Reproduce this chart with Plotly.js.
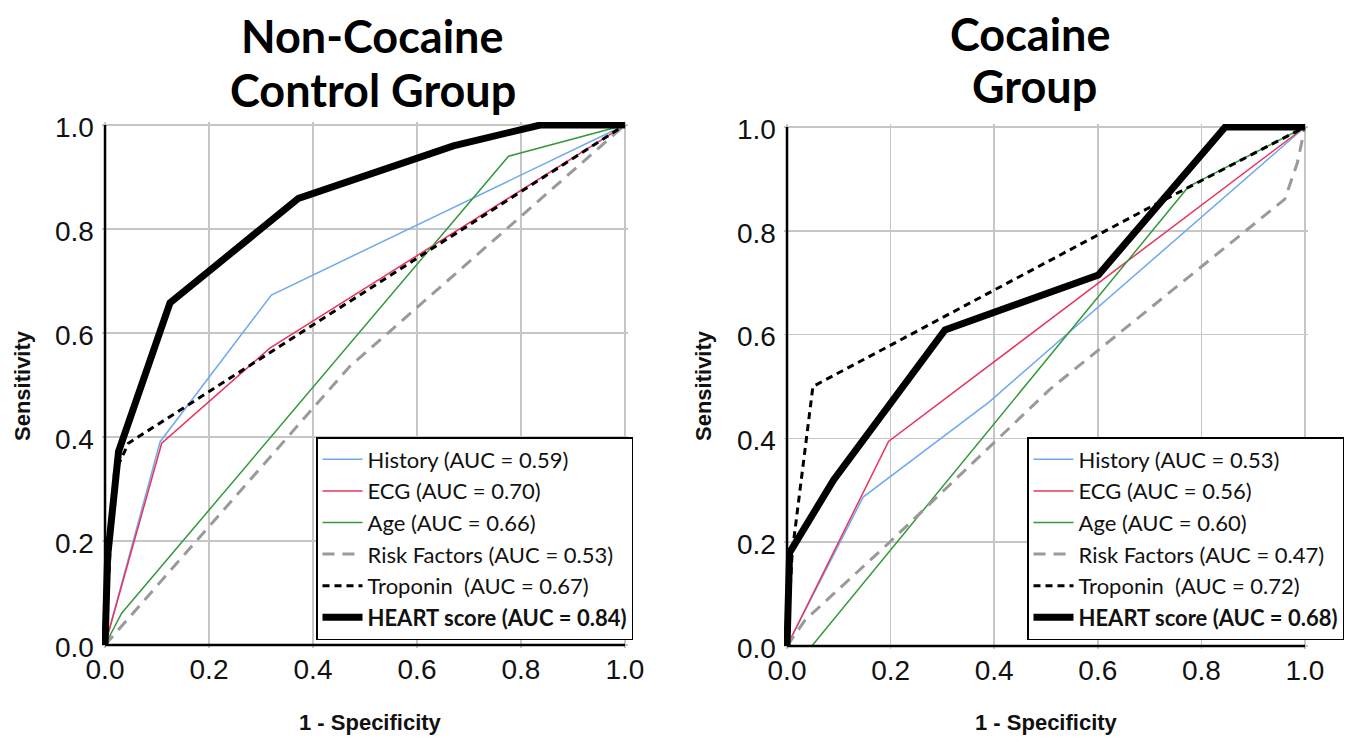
<!DOCTYPE html>
<html>
<head>
<meta charset="utf-8">
<script src="https://cdn.plot.ly/plotly-3.0.1.min.js"></script>
<style>html,body{margin:0;padding:0;background:#fff;}#chart{width:1355px;height:741px;}</style>
</head>
<body>
<div id="chart"></div>
<script>
// ---------- data ----------
const tickVals = [0, 0.2, 0.4, 0.6, 0.8, 1.0];
const tickLabels = ['0.0', '0.2', '0.4', '0.6', '0.8', '1.0'];
const seriesNames = ['History', 'ECG', 'Age', 'Risk Factors', 'Troponin\u00a0', 'HEART score'];
const nonCocaineAUC = ['0.59', '0.70', '0.66', '0.53', '0.67', '0.84'];
const cocaineAUC = ['0.53', '0.56', '0.60', '0.47', '0.72', '0.68'];

// Non-Cocaine Control Group (1 - specificity, sensitivity)
const ncHistoryX = [0, 0.106, 0.32, 1];
const ncHistoryY = [0, 0.391, 0.673, 1];
const ncEcgX = [0, 0.109, 0.317, 1];
const ncEcgY = [0, 0.388, 0.571, 1];
const ncAgeX = [0, 0.032, 0.776, 1];
const ncAgeY = [0, 0.061, 0.94, 1];
const ncRiskX = [0, 0.47, 1];
const ncRiskY = [0, 0.535, 1];
const ncTropX = [0, 0.018, 0.045, 1];
const ncTropY = [0, 0.33, 0.388, 1];
const ncHeartX = [0, 0.005, 0.026, 0.125, 0.372, 0.67, 0.837, 1];
const ncHeartY = [0, 0.17, 0.372, 0.658, 0.859, 0.96, 1, 1];

// Cocaine Group
const cHistoryX = [0, 0.147, 0.39, 1];
const cHistoryY = [0, 0.287, 0.47, 1];
const cEcgX = [0, 0.196, 1];
const cEcgY = [0, 0.394, 1];
const cAgeX = [0, 0.048, 0.775, 1];
const cAgeY = [0, 0, 0.885, 1];
const cRiskX = [0, 0.035, 0.196, 0.508, 0.961, 0.985, 1];
const cRiskY = [0, 0.05, 0.198, 0.495, 0.861, 0.93, 1];
const cTropX = [0, 0.01, 0.05, 0.7, 1];
const cTropY = [0, 0.18, 0.5, 0.845, 1];
const cHeartX = [0, 0.005, 0.09, 0.305, 0.601, 0.846, 1];
const cHeartY = [0, 0.18, 0.32, 0.609, 0.715, 1, 1];

// ---------- styles ----------
const lineStyles = [
  {color: '#6fa9ef', width: 1.5},
  {color: '#e8345c', width: 1.5},
  {color: '#33993a', width: 1.5},
  {color: '#9a9a9a', width: 3, dash: '12px,8px'},
  {color: '#000000', width: 3, dash: '7px,5px'},
  {color: '#000000', width: 7}
];

function makeTraces(xs, ys, aucs, xa, ya, legendId) {
  return xs.map((x, i) => {
    let label = seriesNames[i] + ' (AUC = ' + aucs[i] + ')';
    if (i === 5) label = '<b>' + label + '</b>';
    return {
      type: 'scatter', mode: 'lines', x: x, y: ys[i],
      xaxis: xa, yaxis: ya, legend: legendId,
      name: label, line: Object.assign({shape: 'linear'}, lineStyles[i]),
      hoverinfo: 'skip'
    };
  });
}

const data = [].concat(
  makeTraces([ncHistoryX, ncEcgX, ncAgeX, ncRiskX, ncTropX, ncHeartX],
             [ncHistoryY, ncEcgY, ncAgeY, ncRiskY, ncTropY, ncHeartY],
             nonCocaineAUC, 'x', 'y', 'legend'),
  makeTraces([cHistoryX, cEcgX, cAgeX, cRiskX, cTropX, cHeartX],
             [cHistoryY, cEcgY, cAgeY, cRiskY, cTropY, cHeartY],
             cocaineAUC, 'x2', 'y2', 'legend2')
);

const W = 1355, H = 741;
const tickFont = {family: 'Liberation Sans, Arial, sans-serif', size: 28, color: '#111'};

function axis(domain, isY, anchor) {
  const a = {
    domain: domain, range: [-0.006, 1.006], fixedrange: true, anchor: anchor,
    tickvals: tickVals, ticktext: tickLabels, tickfont: tickFont,
    showgrid: true, gridcolor: '#c6c6c6', gridwidth: 1.5,
    zeroline: false, showline: false, ticks: '',
    ticklabelstandoff: isY ? 7 : 2
  };
  if (isY) a.ticklabelshift = 2;
  return a;
}

const legendBase = {
  xanchor: 'left', yanchor: 'top', bgcolor: '#ffffff',
  bordercolor: '#000000', borderwidth: 1.5,
  font: {family: 'Lato, Open Sans, sans-serif', size: 22, color: '#111'},
  itemwidth: 40, tracegroupgap: 0, itemclick: false, itemdoubleclick: false
};

function axisLines(xr, yr) {
  return [
    {type: 'line', xref: xr, yref: yr, x0: 0, x1: 1, y0: 0, y1: 0, line: {color: '#000', width: 2.5}},
    {type: 'line', xref: xr, yref: yr, x0: 0, x1: 0, y0: 0, y1: 1, line: {color: '#000', width: 2.5}}
  ];
}

const titleFont = {family: 'Lato, Open Sans, sans-serif', size: 45, color: '#000', weight: 'bold'};
const axTitleFont = {family: 'Liberation Sans, Arial, sans-serif', size: 22, color: '#111', weight: 'bold'};

const layout = {
  width: W, height: H,
  margin: {l: 0, r: 0, t: 0, b: 0},
  paper_bgcolor: '#ffffff', plot_bgcolor: '#ffffff',
  showlegend: true,
  xaxis: axis([101.9 / W, 628.1 / W], false, 'y'),
  yaxis: axis([1 - 648.1 / H, 1 - 121.9 / H], true, 'x'),
  xaxis2: axis([783.9 / W, 1308.1 / W], false, 'y2'),
  yaxis2: axis([1 - 649.1 / H, 1 - 123.9 / H], true, 'x2'),
  legend: Object.assign({x: 316 / W, y: 1 - 437 / H}, legendBase),
  legend2: Object.assign({x: 1027 / W, y: 1 - 437 / H}, legendBase),
  shapes: [].concat(axisLines('x', 'y'), axisLines('x2', 'y2')),
  annotations: [
    {text: '<b>Non-Cocaine</b>', xref: 'paper', yref: 'paper', x: 372 / W, y: 1 - 36 / H, xanchor: 'center', yanchor: 'middle', showarrow: false, font: titleFont},
    {text: '<b>Control Group</b>', xref: 'paper', yref: 'paper', x: 373 / W, y: 1 - 90 / H, xanchor: 'center', yanchor: 'middle', showarrow: false, font: titleFont},
    {text: '<b>Cocaine</b>', xref: 'paper', yref: 'paper', x: 1030 / W, y: 1 - 34 / H, xanchor: 'center', yanchor: 'middle', showarrow: false, font: titleFont},
    {text: '<b>Group</b>', xref: 'paper', yref: 'paper', x: 1034 / W, y: 1 - 86 / H, xanchor: 'center', yanchor: 'middle', showarrow: false, font: titleFont},
    {text: '<b>Sensitivity</b>', xref: 'paper', yref: 'paper', x: 22 / W, y: 1 - 386 / H, xanchor: 'center', yanchor: 'middle', textangle: -90, showarrow: false, font: axTitleFont},
    {text: '<b>Sensitivity</b>', xref: 'paper', yref: 'paper', x: 703 / W, y: 1 - 386 / H, xanchor: 'center', yanchor: 'middle', textangle: -90, showarrow: false, font: axTitleFont},
    {text: '<b>1 - Specificity</b>', xref: 'paper', yref: 'paper', x: 370 / W, y: 1 - 722 / H, xanchor: 'center', yanchor: 'middle', showarrow: false, font: axTitleFont},
    {text: '<b>1 - Specificity</b>', xref: 'paper', yref: 'paper', x: 1046 / W, y: 1 - 722 / H, xanchor: 'center', yanchor: 'middle', showarrow: false, font: axTitleFont}
  ]
};

Plotly.newPlot('chart', data, layout, {displayModeBar: false, staticPlot: true});
</script>
</body>
</html>
